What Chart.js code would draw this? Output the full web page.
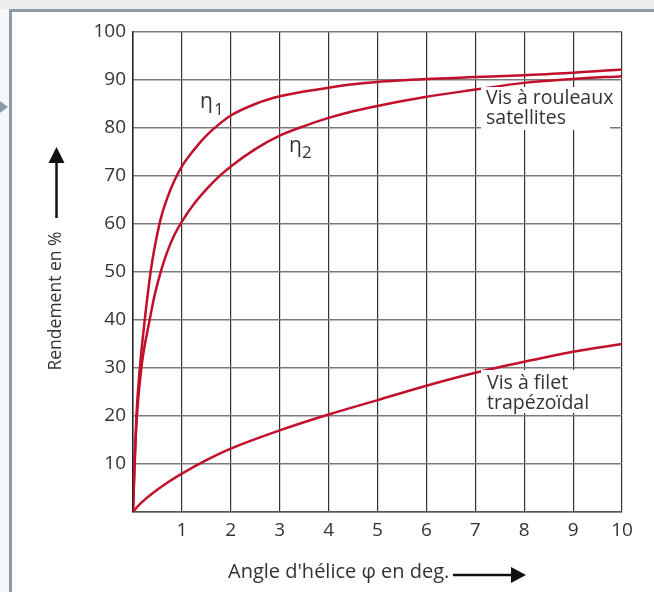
<!DOCTYPE html>
<html>
<head>
<meta charset="utf-8">
<script src="https://cdn.jsdelivr.net/npm/chart.js@4.4.1/dist/chart.umd.min.js"></script>
<style>
  body { margin: 0; background: #fff; }
  #wrap { position: relative; width: 654px; height: 592px; overflow: hidden; background: #fff; }
  #topStrip { position: absolute; left: 0; top: 0; width: 654px; height: 9px; background: #ededed; }
  #leftStrip { position: absolute; left: 0; top: 9px; width: 9px; height: 583px; background: #f7f7f7; }
  #frame { position: absolute; left: 9px; top: 9px; width: 645px; height: 583px; box-sizing: border-box;
           border-top: 3px solid #8c9ba5; border-left: 3px solid #8c9ba5; }
  #tri { position: absolute; left: 0; top: 101px; width: 0; height: 0;
         border-top: 6px solid transparent; border-bottom: 6px solid transparent; border-left: 8px solid #8c9ba5; }
  canvas { position: absolute; left: 0; top: 0; }
</style>
</head>
<body>
<div id="wrap">
  <div id="topStrip"></div>
  <div id="leftStrip"></div>
  <div id="frame"></div>
  <div id="tri"></div>
  <canvas id="effChart" width="654" height="592"></canvas>
</div>
<script>
// values
const angleEta1 = [0, 0.035, 0.07, 0.14, 0.24, 0.36, 0.45, 0.53, 0.6, 0.7, 0.85, 1, 1.25, 1.5, 1.75, 2, 2.5, 3, 3.5, 4, 4.5, 5, 6, 7, 8, 9, 10];
const eta1      = [0, 10, 20, 30, 40, 50, 55.5, 59.5, 62.3, 65.4, 69.1, 72, 75.5, 78.4, 80.7, 82.6, 85.0, 86.6, 87.6, 88.4, 89.1, 89.6, 90.2, 90.6, 91.0, 91.5, 92.2];

const angleEta2 = [0, 0.03, 0.08, 0.17, 0.34, 0.45, 0.58, 0.7, 0.85, 1, 1.25, 1.5, 1.75, 2, 2.5, 3, 3.5, 4, 4.5, 5, 6, 7, 8, 9, 10];
const eta2      = [0, 10, 20, 30, 40, 45.5, 50.5, 54.2, 57.8, 60.5, 64.2, 67.2, 69.8, 72, 75.6, 78.4, 80.4, 82.1, 83.5, 84.6, 86.5, 88, 89.4, 90.2, 90.8];

const angleTrap = [0, 0.1, 0.2, 0.4, 0.7, 1, 1.5, 2, 3, 4, 5, 6, 7, 8, 9, 10];
const effTrap   = [0, 1.2, 2.2, 3.9, 6.1, 8, 10.8, 13.2, 17, 20.3, 23.3, 26.3, 29, 31.3, 33.4, 35];

const xTitle = "Angle d'hélice φ en deg.";
const yTitle = 'Rendement en %';
const rollerLabel = ['Vis à rouleaux', 'satellites'];
const trapLabel = ['Vis à filet', 'trapézoïdal'];

const curveColor = '#c1102c';
const textColor = '#333';
const fontFamily = "'Open Sans', 'Noto Sans', sans-serif";

function toPoints(xs, ys) {
    let pts = [];
    for (let i = 0; i < xs.length; i++) {
        pts.push({ x: xs[i], y: ys[i] });
    }
    return pts;
}

// white label boxes, eta labels and axis titles with arrows
const decorations = {
    id: 'decorations',
    afterDatasetsDraw(chart) {
        const c = chart.ctx;
        c.save();

        c.fillStyle = '#fff';
        c.fillRect(481, 87, 129, 43);
        c.fillRect(481, 370, 108, 43);

        c.fillStyle = textColor;
        c.textAlign = 'left';
        c.textBaseline = 'alphabetic';
        c.font = '19.5px ' + fontFamily;
        c.fillText(rollerLabel[0], 486, 104);
        c.fillText(rollerLabel[1], 486, 124);
        c.fillText(trapLabel[0], 487, 389);
        c.fillText(trapLabel[1], 487, 409);

        c.font = '21px ' + fontFamily;
        c.fillText('η', 200, 108);
        c.fillText('η', 289, 152);
        c.font = '17px ' + fontFamily;
        c.fillText('1', 214, 115);
        c.fillText('2', 302, 158);

        // x axis title + arrow
        c.font = '20px ' + fontFamily;
        c.fillText(xTitle, 228, 578);
        c.strokeStyle = '#111';
        c.fillStyle = '#111';
        c.lineWidth = 2.5;
        c.beginPath();
        c.moveTo(453, 575);
        c.lineTo(514, 575);
        c.stroke();
        c.beginPath();
        c.moveTo(511, 567);
        c.lineTo(526, 575);
        c.lineTo(511, 583);
        c.closePath();
        c.fill();

        // y axis title + arrow
        c.save();
        c.font = '17.5px ' + fontFamily;
        c.translate(61, 301);
        c.rotate(-Math.PI / 2);
        c.fillStyle = textColor;
        c.textAlign = 'center';
        c.fillText(yTitle, 0, 0);
        c.restore();
        c.beginPath();
        c.moveTo(56.5, 218);
        c.lineTo(56.5, 160);
        c.stroke();
        c.beginPath();
        c.moveTo(48.5, 163);
        c.lineTo(56.5, 147);
        c.lineTo(64.5, 163);
        c.closePath();
        c.fill();

        c.restore();
    }
};

let ctx = document.getElementById('effChart');
new Chart(ctx, {
    type: 'line',
    data: {
        datasets: [
            { label: 'η1', data: toPoints(angleEta1, eta1) },
            { label: 'η2', data: toPoints(angleEta2, eta2) },
            { label: 'trapézoïdal', data: toPoints(angleTrap, effTrap) }
        ]
    },
    options: {
        responsive: false,
        animation: false,
        layout: { padding: { top: 32, right: 32, left: 0, bottom: 0 } },
        plugins: {
            legend: { display: false },
            tooltip: { enabled: false }
        },
        elements: {
            point: { radius: 0 },
            line: {
                borderColor: curveColor,
                borderWidth: 2.5,
                cubicInterpolationMode: 'monotone',
                fill: false
            }
        },
        scales: {
            x: {
                type: 'linear',
                min: 0,
                max: 10,
                ticks: {
                    stepSize: 1,
                    padding: 7,
                    color: textColor,
                    font: { family: fontFamily, size: 19 },
                    callback: v => (v === 0 ? '' : v)
                },
                grid: { color: '#333', lineWidth: 1.2, drawTicks: false },
                border: { color: '#555', width: 1.5 },
                afterFit: s => { s.height = 80; }
            },
            y: {
                min: 0,
                max: 100,
                ticks: {
                    stepSize: 10,
                    padding: 7,
                    color: textColor,
                    font: { family: fontFamily, size: 19 },
                    callback: v => (v === 0 ? '' : v)
                },
                grid: { color: '#7a7a7a', lineWidth: 1.6, drawTicks: false },
                border: { color: '#222', width: 1.5 },
                afterFit: s => { s.width = 133; }
            }
        }
    },
    plugins: [decorations]
});
</script>
</body>
</html>
